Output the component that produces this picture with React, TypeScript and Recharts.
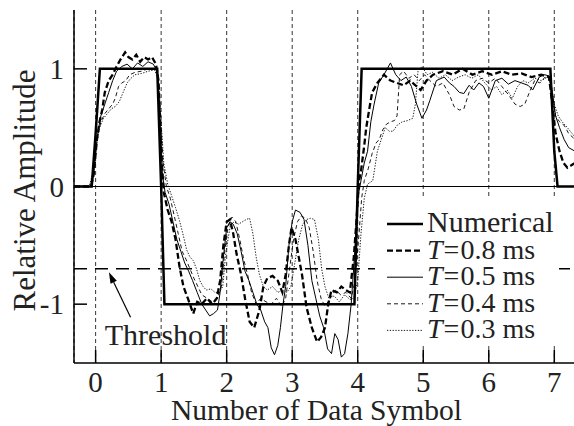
import React from 'react';
import {
  LineChart,
  Line,
  XAxis,
  YAxis,
  CartesianGrid,
  ReferenceLine,
  ReferenceDot,
  Legend,
} from 'recharts';

const FONT = "'Liberation Serif', 'Times New Roman', Times, serif";
const textStyle = { fontFamily: FONT };

// axes
const xTicks = [0, 1, 2, 3, 4, 5, 6, 7];
const yTicks = [-1, 0, 1];
const xDomain = [-0.33, 7.316];
const yDomain = [-1.5, 1.5];
const thresholdLevel = -0.7;

// series values as [symbol, amplitude]
const numerical = [
  [-0.33, 0], [-0.06, 0], [0.0, 0.45], [0.065, 1.0], [0.94, 1.0], [1.0, 0.0], [1.05, -1.0],
  [3.95, -1.0], [4.0, 0.0], [4.06, 1.0], [6.94, 1.0], [7.0, 0.3], [7.05, 0], [7.316, 0],
];

const t08 = [
  [-0.33, 0], [-0.07, 0], [-0.03, 0.1], [0.02, 0.4], [0.06, 0.55], [0.1, 0.65], [0.14, 0.8],
  [0.2, 0.9], [0.26, 0.95], [0.32, 1.02], [0.38, 1.08], [0.45, 1.14], [0.5, 1.1], [0.56, 1.08],
  [0.62, 1.12], [0.68, 1.06], [0.74, 1.1], [0.8, 1.08], [0.86, 1.1], [0.92, 1.04], [0.96, 0.9],
  [1.0, 0.3], [1.04, -0.05], [1.1, -0.2], [1.16, -0.3], [1.22, -0.45], [1.28, -0.68], [1.34, -0.85],
  [1.42, -0.97], [1.49, -1.08], [1.55, -0.98], [1.62, -1.0], [1.7, -0.95], [1.78, -1.0], [1.85, -0.95],
  [1.9, -0.8], [1.95, -0.5], [2.0, -0.3], [2.05, -0.28], [2.1, -0.4], [2.15, -0.57], [2.22, -0.75],
  [2.28, -0.95], [2.35, -1.15], [2.42, -1.2], [2.5, -1.05], [2.56, -0.85], [2.62, -0.78], [2.7, -0.76],
  [2.78, -0.8], [2.85, -0.9], [2.9, -0.75], [2.95, -0.5], [2.99, -0.35], [3.05, -0.45], [3.1, -0.6],
  [3.15, -0.75], [3.22, -1.03], [3.3, -1.2], [3.38, -1.32], [3.44, -1.28], [3.5, -1.2], [3.55, -1.0],
  [3.6, -0.88], [3.68, -0.9], [3.75, -0.85], [3.82, -0.88], [3.88, -0.9], [3.94, -0.6], [3.98, -0.3],
  [4.02, 0.05], [4.05, 0.13], [4.1, 0.35], [4.13, 0.5], [4.18, 0.67], [4.22, 0.8], [4.3, 0.88],
  [4.4, 0.95], [4.5, 0.9], [4.6, 0.88], [4.7, 0.86], [4.8, 0.9], [4.9, 0.85], [4.96, 0.82],
  [5.05, 0.9], [5.15, 0.95], [5.3, 0.98], [5.45, 0.95], [5.6, 1.0], [5.75, 0.95], [5.9, 0.98],
  [6.05, 0.95], [6.2, 0.98], [6.35, 0.95], [6.5, 0.96], [6.65, 0.93], [6.8, 0.95], [6.92, 0.93],
  [6.97, 0.7], [7.02, 0.45], [7.08, 0.3], [7.14, 0.2], [7.2, 0.16], [7.26, 0.18], [7.316, 0.2],
];

const t05 = [
  [-0.33, 0], [-0.06, 0], [-0.02, 0.15], [0.03, 0.45], [0.08, 0.6], [0.14, 0.7], [0.2, 0.8],
  [0.26, 0.9], [0.32, 0.98], [0.4, 1.02], [0.48, 1.04], [0.56, 1.0], [0.64, 1.05], [0.72, 1.02],
  [0.8, 1.06], [0.88, 1.04], [0.94, 0.98], [0.98, 0.6], [1.02, 0.1], [1.06, -0.05], [1.12, -0.15],
  [1.18, -0.3], [1.24, -0.45], [1.3, -0.55], [1.36, -0.65], [1.42, -0.72], [1.48, -0.8], [1.55, -0.9],
  [1.62, -1.0], [1.68, -1.05], [1.74, -1.1], [1.8, -1.08], [1.86, -1.05], [1.9, -0.9], [1.95, -0.6],
  [2.0, -0.35], [2.05, -0.3], [2.1, -0.32], [2.16, -0.4], [2.22, -0.55], [2.28, -0.72], [2.34, -0.8],
  [2.4, -0.9], [2.46, -1.0], [2.52, -1.05], [2.58, -1.15], [2.63, -1.2], [2.68, -1.37], [2.73, -1.43],
  [2.78, -1.35], [2.82, -1.2], [2.86, -1.0], [2.9, -0.85], [2.95, -0.5], [3.0, -0.3], [3.05, -0.2],
  [3.12, -0.22], [3.18, -0.28], [3.24, -0.5], [3.3, -0.8], [3.36, -0.95], [3.42, -1.1], [3.48, -1.2],
  [3.54, -1.38], [3.6, -1.42], [3.65, -1.25], [3.7, -1.3], [3.75, -1.45], [3.8, -1.42], [3.85, -1.25],
  [3.9, -1.0], [3.95, -0.6], [4.0, -0.1], [4.05, 0.05], [4.1, 0.2], [4.15, 0.3], [4.2, 0.55],
  [4.25, 0.7], [4.32, 0.88], [4.4, 0.95], [4.5, 1.05], [4.58, 0.95], [4.66, 0.9], [4.74, 0.93],
  [4.82, 0.85], [4.9, 0.7], [4.98, 0.58], [5.05, 0.65], [5.1, 0.73], [5.2, 0.9], [5.32, 0.93],
  [5.4, 0.88], [5.47, 0.85], [5.55, 0.8], [5.62, 0.79], [5.7, 0.86], [5.77, 0.82], [5.85, 0.88],
  [5.92, 0.85], [6.0, 0.75], [6.1, 0.9], [6.2, 0.92], [6.3, 0.87], [6.4, 0.9], [6.5, 0.88],
  [6.6, 0.86], [6.67, 0.82], [6.77, 0.93], [6.85, 0.95], [6.92, 0.94], [6.97, 0.8], [7.02, 0.6],
  [7.08, 0.5], [7.15, 0.4], [7.22, 0.33], [7.316, 0.3],
];

const t04 = [
  [-0.33, 0], [-0.08, 0], [-0.03, 0.15], [0.02, 0.4], [0.08, 0.55], [0.14, 0.62], [0.2, 0.66],
  [0.26, 0.7], [0.3, 0.75], [0.35, 0.85], [0.4, 0.88], [0.46, 0.9], [0.52, 0.95], [0.6, 0.97],
  [0.7, 0.98], [0.8, 1.0], [0.9, 1.0], [0.95, 0.95], [0.99, 0.6], [1.03, 0.2], [1.08, 0.0],
  [1.14, -0.1], [1.2, -0.25], [1.26, -0.4], [1.32, -0.55], [1.38, -0.62], [1.44, -0.7], [1.5, -0.78],
  [1.56, -0.85], [1.62, -0.92], [1.7, -0.95], [1.78, -0.98], [1.86, -0.95], [1.92, -0.85], [1.97, -0.55],
  [2.02, -0.35], [2.08, -0.26], [2.14, -0.3], [2.2, -0.45], [2.26, -0.62], [2.32, -0.75], [2.38, -0.9],
  [2.45, -1.0], [2.52, -0.95], [2.6, -0.98], [2.68, -1.0], [2.76, -0.95], [2.84, -1.02], [2.9, -0.95],
  [2.96, -0.7], [3.02, -0.45], [3.08, -0.3], [3.14, -0.25], [3.2, -0.27], [3.26, -0.35], [3.32, -0.55],
  [3.38, -0.8], [3.44, -0.95], [3.5, -1.02], [3.58, -0.95], [3.66, -0.88], [3.74, -0.92], [3.82, -0.9],
  [3.9, -0.95], [3.96, -0.8], [4.02, -0.4], [4.06, -0.1], [4.1, 0.05], [4.16, 0.15], [4.22, 0.28],
  [4.28, 0.37], [4.33, 0.4], [4.38, 0.48], [4.44, 0.53], [4.5, 0.55], [4.56, 0.56], [4.6, 0.6],
  [4.64, 0.95], [4.7, 0.98], [4.78, 0.92], [4.86, 0.95], [4.94, 0.9], [5.02, 0.95], [5.1, 0.9],
  [5.2, 0.85], [5.3, 0.88], [5.4, 0.78], [5.47, 0.68], [5.55, 0.65], [5.62, 0.66], [5.7, 0.8],
  [5.8, 0.9], [5.9, 0.92], [6.0, 0.88], [6.1, 0.92], [6.2, 0.85], [6.3, 0.78], [6.4, 0.7],
  [6.48, 0.68], [6.55, 0.7], [6.62, 0.8], [6.7, 0.9], [6.78, 0.88], [6.86, 0.93], [6.93, 0.9],
  [6.97, 0.75], [7.02, 0.6], [7.08, 0.55], [7.15, 0.52], [7.22, 0.45], [7.316, 0.4],
];

const t03 = [
  [-0.33, 0], [-0.1, 0], [-0.05, 0.1], [0.0, 0.3], [0.06, 0.5], [0.12, 0.58], [0.18, 0.62],
  [0.24, 0.66], [0.3, 0.68], [0.36, 0.72], [0.42, 0.8], [0.48, 0.88], [0.54, 0.92], [0.6, 0.95],
  [0.7, 0.96], [0.8, 0.98], [0.9, 0.99], [0.96, 0.9], [1.0, 0.55], [1.04, 0.2], [1.1, 0.02],
  [1.16, -0.08], [1.22, -0.18], [1.28, -0.29], [1.34, -0.42], [1.39, -0.54], [1.44, -0.6], [1.49, -0.63],
  [1.54, -0.7], [1.59, -0.8], [1.64, -0.85], [1.69, -0.88], [1.76, -0.87], [1.82, -0.9], [1.89, -0.9],
  [1.94, -0.85], [1.98, -0.6], [2.02, -0.45], [2.06, -0.32], [2.12, -0.3], [2.18, -0.32], [2.24, -0.3],
  [2.3, -0.28], [2.35, -0.27], [2.4, -0.4], [2.45, -0.6], [2.5, -0.75], [2.56, -0.85], [2.62, -0.88],
  [2.7, -0.85], [2.78, -0.9], [2.86, -0.88], [2.92, -0.9], [2.98, -0.85], [3.04, -0.65], [3.1, -0.45],
  [3.16, -0.32], [3.22, -0.28], [3.28, -0.27], [3.34, -0.28], [3.4, -0.45], [3.45, -0.7], [3.5, -0.85],
  [3.56, -0.95], [3.64, -0.93], [3.72, -0.98], [3.8, -0.92], [3.88, -0.96], [3.94, -0.95], [4.0, -0.8],
  [4.05, -0.4], [4.1, -0.1], [4.15, 0.02], [4.23, 0.05], [4.3, 0.3], [4.36, 0.4], [4.42, 0.5],
  [4.48, 0.47], [4.54, 0.47], [4.6, 0.52], [4.68, 0.55], [4.76, 0.56], [4.84, 0.58], [4.88, 0.7],
  [4.92, 0.98], [4.98, 1.02], [5.06, 0.95], [5.14, 0.97], [5.24, 0.92], [5.34, 0.95], [5.44, 0.9],
  [5.54, 0.93], [5.64, 0.95], [5.74, 0.92], [5.84, 0.95], [5.94, 0.88], [6.04, 0.82], [6.12, 0.85],
  [6.2, 0.78], [6.28, 0.82], [6.36, 0.75], [6.44, 0.85], [6.52, 0.9], [6.6, 0.88], [6.7, 0.92],
  [6.8, 0.9], [6.9, 0.93], [6.96, 0.85], [7.0, 0.7], [7.06, 0.6], [7.12, 0.55], [7.2, 0.5],
  [7.316, 0.42],
];

const series = [
  { key: 'num', name: 'Numerical', pts: numerical, width: 2.5, dash: undefined },
  { key: 't08', name: 'T = 0.8 ms', pts: t08, width: 2.3, dash: '6 3' },
  { key: 't05', name: 'T = 0.5 ms', pts: t05, width: 1, dash: undefined },
  { key: 't04', name: 'T = 0.4 ms', pts: t04, width: 0.9, dash: '4 3' },
  { key: 't03', name: 'T = 0.3 ms', pts: t03, width: 0.9, dash: '1.3 1.5' },
];

const TICK_LEN = 13;

const BottomTick = ({ x, y, payload }: any) => (
  <g>
    <line x1={x} y1={y} x2={x} y2={y - TICK_LEN} stroke="#000" strokeWidth={1.5} />
    <text x={x} y={y + 29} textAnchor="middle" fontSize={29} style={textStyle} fill="#222">
      {payload.value}
    </text>
  </g>
);

const TopTick = ({ x, y }: any) => (
  <line x1={x} y1={y} x2={x} y2={y + TICK_LEN} stroke="#000" strokeWidth={1.5} />
);

const LeftTick = ({ x, y, payload }: any) => (
  <g>
    <line x1={x} y1={y} x2={x + TICK_LEN} y2={y} stroke="#000" strokeWidth={1.5} />
    <text x={x - 10} y={y + 10} textAnchor="end" fontSize={29} style={textStyle} fill="#222">
      {String(payload.value)}
    </text>
  </g>
);

const RightTick = ({ x, y }: any) => (
  <line x1={x} y1={y} x2={x - TICK_LEN} y2={y} stroke="#000" strokeWidth={1.5} />
);

const ArrowShape = (p: any) => {
  const { x1, y1, x2, y2 } = p;
  const a = Math.atan2(y2 - y1, x2 - x1);
  const len = 11;
  const hw = 3.5;
  const bx = x2 - len * Math.cos(a);
  const by = y2 - len * Math.sin(a);
  const nx = -Math.sin(a) * hw;
  const ny = Math.cos(a) * hw;
  return (
    <g>
      <line x1={x1} y1={y1} x2={bx} y2={by} stroke="#000" strokeWidth={1.2} />
      <polygon points={`${x2},${y2} ${bx + nx},${by + ny} ${bx - nx},${by - ny}`} fill="#000" />
    </g>
  );
};

const LEG_TOP = 198;

const LegendBox = () => (
  <div style={{ background: '#fff', width: 184, height: 148 }}>
    <svg width={184} height={148}>
      {series.map((s, i) => {
        const base = 34 + i * 26.6;
        const isT = s.name.startsWith('T');
        return (
          <g key={s.key}>
            <line
              x1={12}
              x2={48}
              y1={base - 8}
              y2={base - 8}
              stroke="#000"
              strokeWidth={s.width}
              strokeDasharray={s.dash}
            />
            <text x={52} y={base} fontSize={isT ? 28 : 30} style={textStyle} fill="#222">
              {isT ? (
                <>
                  <tspan fontStyle="italic">T</tspan>
                  <tspan dx={1}>=</tspan>
                  <tspan dx={1}>{s.name.slice(4)}</tspan>
                </>
              ) : (
                s.name
              )}
            </text>
          </g>
        );
      })}
    </svg>
  </div>
);

export default function App() {
  return (
    <div
      style={{
        position: 'absolute',
        left: 0,
        top: 0,
        width: 574,
        height: 426,
        overflow: 'hidden',
        background: '#fff',
        fontFamily: FONT,
      }}
    >
      <LineChart width={580} height={426} margin={{ top: 10, right: 5, left: 0, bottom: 0 }}>
        <CartesianGrid horizontal={false} stroke="#000" strokeWidth={0.8} strokeDasharray="4 3" />
        <XAxis
          dataKey="x"
          type="number"
          domain={xDomain}
          ticks={xTicks}
          interval={0}
          allowDataOverflow
          height={63}
          tickSize={0}
          tickMargin={0}
          tickLine={false}
          tick={BottomTick}
          axisLine={{ stroke: '#000', strokeWidth: 1.5 }}
          label={{
            content: (p: any) => (
              <text
                x={p.viewBox.x + p.viewBox.width / 2 - 8}
                y={p.viewBox.y + 57}
                textAnchor="middle"
                fontSize={29.5}
                style={textStyle}
                fill="#222"
              >
                Number of Data Symbol
              </text>
            ),
          }}
        />
        <XAxis
          xAxisId="top"
          orientation="top"
          dataKey="x"
          type="number"
          domain={xDomain}
          ticks={xTicks}
          interval={0}
          allowDataOverflow
          height={0}
          tickSize={0}
          tickMargin={0}
          tickLine={false}
          tick={TopTick}
          axisLine={{ stroke: '#000', strokeWidth: 1.5 }}
        />
        <YAxis
          type="number"
          domain={yDomain}
          ticks={yTicks}
          interval={0}
          allowDataOverflow
          width={74}
          tickSize={0}
          tickMargin={0}
          tickLine={false}
          tick={LeftTick}
          axisLine={{ stroke: '#000', strokeWidth: 1.5 }}
          label={{
            content: (p: any) => {
              const cx = p.viewBox.x + 35;
              const cy = p.viewBox.y + p.viewBox.height / 2 + 4;
              return (
                <text
                  x={cx}
                  y={cy}
                  transform={`rotate(-90, ${cx}, ${cy})`}
                  textAnchor="middle"
                  fontSize={31}
                  style={textStyle}
                  fill="#222"
                >
                  Relative Amplitude
                </text>
              );
            },
          }}
        />
        <YAxis
          yAxisId="right"
          orientation="right"
          type="number"
          domain={yDomain}
          ticks={yTicks}
          interval={0}
          allowDataOverflow
          width={0}
          tickSize={0}
          tickMargin={0}
          tickLine={false}
          tick={RightTick}
          axisLine={{ stroke: '#000', strokeWidth: 1.5 }}
        />
        <ReferenceLine y={0} stroke="#000" strokeWidth={1} />
        <ReferenceLine y={thresholdLevel} stroke="#000" strokeWidth={1.5} strokeDasharray="13 8" />
        {series.map((s) => (
          <Line
            key={s.key}
            data={s.pts.map(([x, y]) => ({ x, y }))}
            dataKey="y"
            name={s.name}
            type="linear"
            stroke="#000"
            strokeWidth={s.width}
            strokeDasharray={s.dash}
            dot={false}
            activeDot={false}
            isAnimationActive={false}
          />
        ))}
        <ReferenceLine
          segment={[
            { x: 0.533, y: -1.112 },
            { x: 0.203, y: -0.729 },
          ]}
          shape={ArrowShape}
        />
        <ReferenceDot
          x={0.14}
          y={-1.345}
          r={0}
          shape={(p: any) => (
            <text x={p.cx} y={p.cy} fontSize={30} style={textStyle} fill="#222">
              Threshold
            </text>
          )}
        />
        <Legend
          layout="vertical"
          align="center"
          verticalAlign="middle"
          content={() => <LegendBox />}
          wrapperStyle={{ position: 'absolute', left: 375, top: LEG_TOP, width: 184, height: 148 }}
        />
      </LineChart>
    </div>
  );
}
